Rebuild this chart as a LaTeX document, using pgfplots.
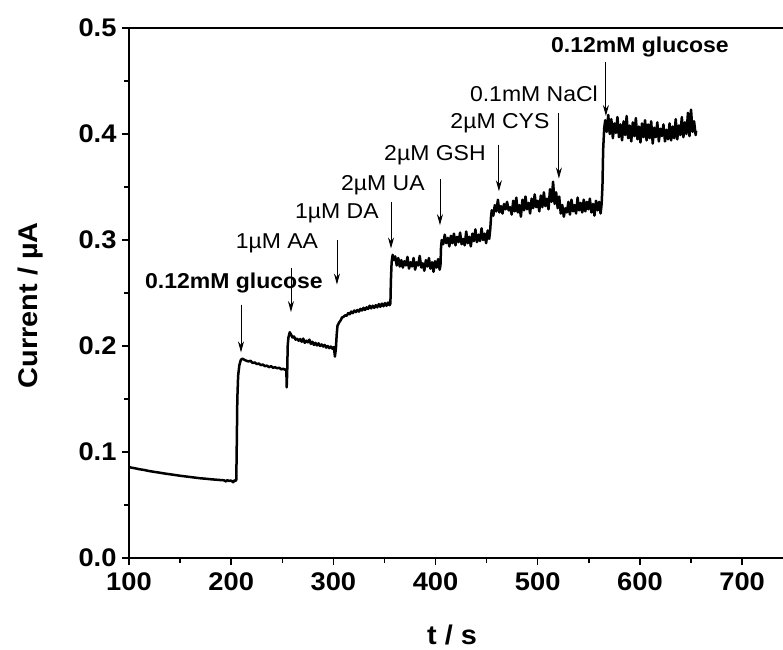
\documentclass[border=0pt]{standalone}
\usepackage{pgfplots}
\pgfplotsset{compat=1.18}
\usetikzlibrary{arrows.meta}
\usepackage{fontspec}
\setmainfont{Liberation Sans}[FakeStretch=1.07]
\begin{document}
\begin{tikzpicture}
\path[use as bounding box] (-129pt,-91pt) rectangle (654pt,558pt);
\begin{axis}[
  scale only axis, width=654pt, height=530pt,
  xmin=100, xmax=740, ymin=0, ymax=0.5,
  axis x line*=box, axis y line*=left,
  xtick={100,200,...,700}, ytick={0,0.1,...,0.5},
  xtick pos=bottom, ytick pos=left,
  minor x tick num=1, minor y tick num=1,
  tick align=outside,
  major tick length=7pt, minor tick length=4.5pt,
  every tick/.style={line width=1.4pt, black},
  axis line style={line width=1.7pt},
  /pgf/number format/assume math mode=true,
  /pgf/number format/fixed, /pgf/number format/fixed zerofill,
  yticklabel style={/pgf/number format/precision=1},
  xticklabel style={/pgf/number format/precision=0},
  ticklabel style={font=\fontsize{25.5}{30}\selectfont\bfseries},
  xticklabel style={yshift=-4pt},
  yticklabel style={xshift=-2pt},
  xlabel={t / s}, ylabel={Current / µA},
  label style={font=\fontsize{27}{32}\selectfont\bfseries},
  xlabel style={at={(axis description cs:0.494,-0.145)}, anchor=center},
  ylabel style={at={(axis description cs:-0.151,0.477)}, anchor=center},
  clip=false,
]
\addplot[black, line width=2.5pt, line join=round] coordinates {
(101,0.0855)(105,0.0848)(110,0.0838)(115,0.0830)(120,0.0820)(125,0.0812)(130,0.0805)(135,0.0797)(140,0.0790)(145,0.0783)(150,0.0776)(155,0.0770)(160,0.0764)(165,0.0758)(170,0.0752)(175,0.0748)(180,0.0743)(185,0.0739)(190,0.0735)(193,0.0733)(195,0.0722)(196,0.0734)(198,0.0728)(200,0.0730)(202,0.0715)(203,0.0732)(204.5,0.0728)(205,0.0740)
(205.5,0.110)(206,0.150)(206.8,0.172)(208,0.182)(209.5,0.187)(211,0.188)(213,0.187)(215,0.186)(217,0.1855)(219,0.186)(221,0.184)(223,0.1845)(225,0.183)(227,0.1835)(229,0.182)(231,0.1825)(233,0.181)(235,0.1815)(237,0.180)(239,0.181)(241,0.1795)(243,0.180)(245,0.179)(247,0.1795)(249,0.178)(251,0.1785)(253,0.1775)(254,0.178)
(254.3,0.161)(254.8,0.175)(255.3,0.200)(256,0.208)(257.3,0.213)(258.5,0.211)(260,0.208)(261.5,0.209)(263,0.206)(264.5,0.207)(266,0.205)(267.5,0.2065)(269,0.204)(270.5,0.207)(272,0.203)(273.5,0.205)(275,0.2035)(276.5,0.206)(278,0.202)(279.5,0.204)(281,0.201)(282.5,0.203)(284,0.2005)(285.5,0.2025)(287,0.2)(288.5,0.2015)(290,0.1995)(291.5,0.201)(293,0.1985)(294.5,0.2)(296,0.198)(297.5,0.1995)(299,0.1975)(300.5,0.199)
(301.5,0.190)(302.5,0.198)(303.2,0.210)(304,0.219)(305.5,0.222)(307,0.224)(308.5,0.227)(310,0.2275)(311.5,0.229)(313,0.2285)(314.5,0.231)(316,0.230)(317.5,0.2325)(319,0.231)(320.5,0.2335)(322,0.232)(323.5,0.234)(325,0.2325)(326.5,0.235)(328,0.2335)(329.5,0.236)(331,0.234)(332.5,0.2365)(334,0.235)(335.5,0.238)(337,0.2355)(338.5,0.238)(340,0.236)(341.5,0.2385)(343,0.2365)(344.5,0.2395)(346,0.237)(347.5,0.240)(349,0.2375)(350.5,0.2405)(352,0.238)(353.5,0.241)(355,0.2385)(355.8,0.240)
(356.3,0.262)(357,0.279)(358,0.286)(359.3,0.281)(360.5,0.2845)(362,0.276)(363.5,0.283)(365,0.275)(366.5,0.281)(368,0.274)(369.5,0.280)(371,0.276)(372.5,0.284)(374,0.273)(375.5,0.279)(377,0.275)(378.5,0.283)(380,0.272)(381.5,0.279)(383,0.276)(384.5,0.285)(386,0.274)(387.5,0.278)(389,0.271)(390.5,0.281)(392,0.275)(393.5,0.283)(395,0.273)(396.5,0.279)(398,0.270)(399.5,0.280)(401,0.274)(402.5,0.282)(404,0.272)(404.8,0.276)
(405.3,0.292)(406,0.300)(407.5,0.296)(409,0.305)(410.5,0.297)(412,0.302)(413.5,0.294)(415,0.304)(416.5,0.297)(418,0.306)(419.5,0.295)(421,0.303)(422.5,0.298)(424,0.307)(425.5,0.296)(427,0.301)(428.5,0.295)(430,0.308)(431.5,0.297)(433,0.303)(434.5,0.294)(436,0.306)(437.5,0.299)(439,0.310)(440.5,0.298)(442,0.305)(443.5,0.299)(445,0.311)(446.5,0.300)(448,0.306)(449.5,0.297)(451,0.309)(452.5,0.301)(453.5,0.310)
(454.3,0.322)(455,0.328)(456.5,0.323)(458,0.333)(459.5,0.327)(461,0.338)(462.5,0.326)(464,0.332)(465.5,0.325)(467,0.334)(468.5,0.329)(470,0.336)(471.5,0.328)(473,0.331)(474.5,0.324)(476,0.337)(477.5,0.327)(479,0.340)(480.5,0.326)(482,0.333)(483.5,0.322)(485,0.338)(486.5,0.328)(488,0.341)(489.5,0.329)(491,0.335)(492.5,0.325)(494,0.339)(495.5,0.330)(497,0.343)(498.5,0.331)(500,0.337)(501.5,0.327)(503,0.342)(504.5,0.331)(506,0.345)(507.5,0.332)(509,0.339)(510.5,0.329)(512,0.348)(513.5,0.336)(515,0.355)(516.5,0.334)(518,0.345)(519.5,0.330)(521,0.341)(522.5,0.325)(524,0.333)(525.5,0.322)(527,0.330)(528.5,0.326)(530,0.336)(531.5,0.324)(533,0.338)(534.5,0.327)(536,0.333)(537.5,0.325)(539,0.340)(540.5,0.328)(542,0.335)(543.5,0.326)(545,0.338)(546.5,0.327)(548,0.336)(549.5,0.329)(551,0.339)(552.5,0.326)(554,0.334)(555.5,0.323)(557,0.337)(558.5,0.328)(560,0.336)(561.5,0.325)(562.5,0.334)
(563.3,0.350)(564,0.385)(565,0.405)(566,0.413)(567.5,0.402)(569,0.418)(570.5,0.400)(572,0.414)(573.5,0.396)(575,0.410)(576.5,0.401)(578,0.416)(579.5,0.397)(581,0.409)(582.5,0.394)(584,0.412)(585.5,0.399)(587,0.417)(588.5,0.396)(590,0.408)(591.5,0.393)(593,0.411)(594.5,0.398)(596,0.415)(597.5,0.395)(599,0.407)(600.5,0.392)(602,0.410)(603.5,0.397)(605,0.413)(606.5,0.394)(608,0.409)(609.5,0.396)(611,0.412)(612.5,0.391)(614,0.406)(615.5,0.397)(617,0.411)(618.5,0.393)(620,0.405)(621.5,0.398)(623,0.409)(624.5,0.393)(626,0.404)(627.5,0.395)(629,0.410)(630.5,0.394)(632,0.407)(633.5,0.396)(635,0.414)(636.5,0.395)(638,0.408)(639.5,0.399)(641,0.416)(642.5,0.397)(644,0.411)(645.5,0.400)(647,0.420)(648.5,0.398)(650,0.423)(651.5,0.402)(653,0.412)(654.5,0.399)(655,0.403)
};
% arrows
\begin{scope}[line width=0.9pt, -{Stealth[length=11pt,width=6pt]}]
\draw (axis cs:209.6,0.239) -- (axis cs:209.6,0.194);
\draw (axis cs:258.5,0.274) -- (axis cs:258.5,0.232);
\draw (axis cs:303.5,0.300) -- (axis cs:303.5,0.258);
\draw (axis cs:356.4,0.336) -- (axis cs:356.4,0.292);
\draw (axis cs:404.3,0.358) -- (axis cs:404.3,0.314);
\draw (axis cs:462.0,0.390) -- (axis cs:462.0,0.346);
\draw (axis cs:520.7,0.420) -- (axis cs:520.7,0.358);
\draw (axis cs:566.7,0.468) -- (axis cs:566.7,0.417);
\end{scope}
% labels
\begin{scope}[every node/.style={font=\fontsize{21.5}{25}\selectfont, inner sep=0pt}]
\node[font=\fontsize{21.5}{25}\selectfont\bfseries] at (axis cs:202.7,0.259) {0.12mM glucose};
\node at (axis cs:244.8,0.297) {1µM AA};
\node at (axis cs:303.5,0.325) {1µM DA};
\node at (axis cs:348.5,0.352) {2µM UA};
\node at (axis cs:399.4,0.380) {2µM GSH};
\node at (axis cs:463.0,0.410) {2µM CYS};
\node at (axis cs:496.3,0.438) {0.1mM NaCl};
\node[font=\fontsize{21.5}{25}\selectfont\bfseries] at (axis cs:600.0,0.482) {0.12mM glucose};
\end{scope}
\end{axis}
\end{tikzpicture}
\end{document}
